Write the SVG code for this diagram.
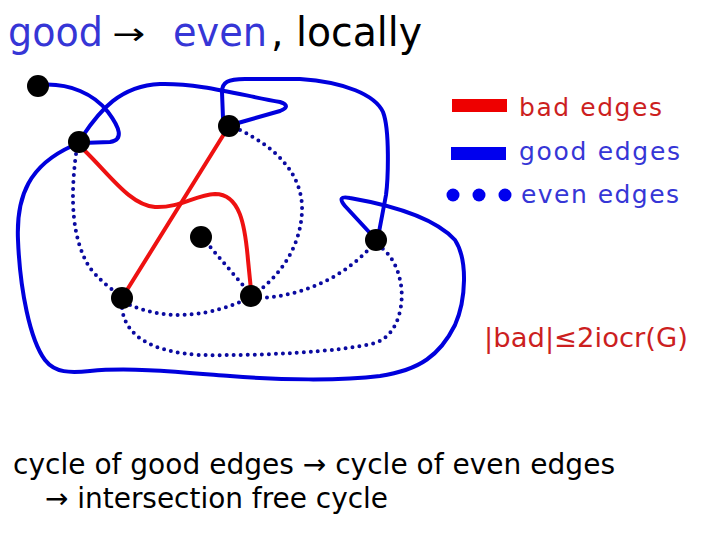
<svg xmlns="http://www.w3.org/2000/svg" width="720" height="540" viewBox="0 0 720 540">
<style>
text{font-family:"DejaVu Sans","Verdana",sans-serif}
.good{fill:none;stroke:#0000dd;stroke-width:4;stroke-linecap:round;stroke-linejoin:round}
.bad{fill:none;stroke:#ee1111;stroke-width:4;stroke-linecap:round}
.even{fill:none;stroke:#0a0aa0;stroke-width:4;stroke-linecap:round;stroke-dasharray:0 7}
.node{fill:#000}
.blue{fill:#3636d6}
.red{fill:#cc1f1f}
.blk{fill:#000}
</style>
<rect width="720" height="540" fill="#fff"/>
<g id="title" font-size="40">
<text x="8" y="46" class="blue" textLength="95" lengthAdjust="spacingAndGlyphs">good</text>
<text x="112" y="44" class="blk" font-size="30" textLength="33" lengthAdjust="spacingAndGlyphs">→</text>
<text x="173" y="46" class="blue" textLength="94" lengthAdjust="spacingAndGlyphs">even</text>
<text x="271" y="46" class="blk" textLength="151" lengthAdjust="spacingAndGlyphs">, locally</text>
</g>
<g id="connectors">
<g id="good-edges">
<path class="good" d="M38,85 C70,82 95,95 108,112 C120,128 124,140 110,142 L82,143"/>
<path class="good" d="M82,137 C100,110 120,86 160,84 C200,83 240,95 280,102 Q292,106 280,111 L238,123"/>
<path class="good" d="M223,118 L222,92 C222,82 228,79 245,79 L300,79 C345,82 375,95 383,112 C390,130 388,180 386,195 L379,232"/>
<path class="good" d="M370,233 L345,206 Q336,195 350,198 C390,205 435,218 455,240 C468,260 466,300 455,325 C440,355 420,370 380,376 C340,381 280,380 230,376 C180,372 130,367 90,371 C70,373 55,373 45,360 C30,340 20,290 18,240 C16,195 30,165 72,146"/>
</g>
<g id="bad-edges">
<path class="bad" d="M84,150 C110,175 130,205 155,207 C180,208 195,195 215,194 C240,194 245,225 248,260 L251,290"/>
<path class="bad" d="M229,126 L122,298"/>
</g>
<g id="even-edges">
<path class="even" d="M76,154 C70,200 72,240 90,268 Q102,283 116,292"/>
<path class="even" d="M240,130 C280,150 300,175 302,205 C303,240 285,270 260,290"/>
<path class="even" d="M206,242 L247,290"/>
<path class="even" d="M130,305 C160,318 200,320 245,300"/>
<path class="even" d="M260,298 C300,296 340,280 370,248"/>
<path class="even" d="M122,308 C125,335 150,352 200,355 C260,356 340,352 375,343 C400,335 405,300 400,280 C397,265 390,255 382,248"/>
</g>
</g>
<g id="nodeA"><circle class="node" cx="38" cy="86" r="11"/></g>
<g id="nodeB"><circle class="node" cx="79" cy="142" r="11"/></g>
<g id="nodeC"><circle class="node" cx="229" cy="126" r="11"/></g>
<g id="nodeD"><circle class="node" cx="201" cy="237" r="11"/></g>
<g id="nodeE"><circle class="node" cx="376" cy="240" r="11"/></g>
<g id="nodeF"><circle class="node" cx="122" cy="298" r="11"/></g>
<g id="nodeG"><circle class="node" cx="251" cy="296" r="11"/></g>
<g id="legend" font-size="25">
<rect x="452" y="99" width="55" height="13" fill="#ee0000"/>
<text x="519" y="116" class="red" textLength="143" lengthAdjust="spacing">bad edges</text>
<rect x="451" y="147" width="55" height="13" fill="#0000ee"/>
<text x="519" y="160" class="blue" textLength="161" lengthAdjust="spacing">good edges</text>
<circle cx="453" cy="195" r="6.5" fill="#0000ee"/>
<circle cx="479" cy="195" r="6.5" fill="#0000ee"/>
<circle cx="505" cy="195" r="6.5" fill="#0000ee"/>
<text x="521" y="203" class="blue" textLength="158" lengthAdjust="spacing">even edges</text>
</g>
<g id="bound">
<text x="484" y="347" class="red" font-size="26" textLength="204" lengthAdjust="spacingAndGlyphs">|bad|≤2iocr(G)</text>
</g>
<g id="caption" font-size="28" class="blk">
<text x="13" y="474" textLength="602" lengthAdjust="spacingAndGlyphs">cycle of good edges → cycle of even edges</text>
<text x="45" y="508" textLength="343" lengthAdjust="spacingAndGlyphs">→ intersection free cycle</text>
</g>
</svg>
